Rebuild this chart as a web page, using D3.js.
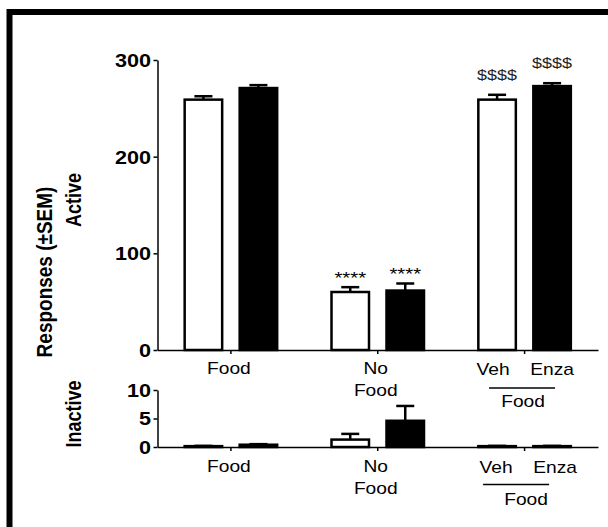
<!DOCTYPE html>
<html>
<head>
<meta charset="utf-8">
<script src="https://cdn.jsdelivr.net/npm/d3@7"></script>
<style>
html, body { margin: 0; padding: 0; background: #fff; }
svg { display: block; }
text { font-family: "Liberation Sans", Arial, sans-serif; }
</style>
</head>
<body>
<svg id="chart" width="608" height="527"></svg>
<script>
// ---- data ----
const groups = ["Food", "No Food", "Veh/Enza Food"];
const seriesNames = ["Veh", "Enza"];
const seriesFill = ["#fff", "#000"];

const activeWhite = [259, 60, 259];
const activeWhiteSem = [3.5, 5, 5];
const activeBlack = [271, 61.5, 273];
const activeBlackSem = [3, 7.3, 3];
const activeWhiteSig = ["", "****", "$$$$"];
const activeBlackSig = ["", "****", "$$$$"];

const inactiveWhite = [0.15, 1.3, 0.15];
const inactiveWhiteSem = [0.05, 1.0, 0.05];
const inactiveBlack = [0.4, 4.6, 0.15];
const inactiveBlackSem = [0.1, 2.6, 0.05];

const activeTicks = [0, 100, 200, 300];
const inactiveTicks = [0, 5, 10];

const groupLabelLines = [["Food"], ["No", "Food"], null];
const subLabels = ["Veh", "Enza"];
const subGroupLabel = "Food";

// ---- layout ----
const svg = d3.select("#chart");
const SX = 1.2; // horizontal stretch of the original picture's text

// frame (top and left edges visible)
svg.append("line").attr("x1", 7).attr("x2", 608).attr("y1", 12).attr("y2", 12)
  .attr("stroke", "#000").attr("stroke-width", 6);
svg.append("line").attr("x1", 9.5).attr("x2", 9.5).attr("y1", 9).attr("y2", 527)
  .attr("stroke", "#000").attr("stroke-width", 6);

const xLeft = 157.5, xRight = 598;
const x0 = d3.scaleBand().domain(groups).range([xLeft, xRight]).padding(0);
const x1 = d3.scaleBand().domain(seriesNames).range([-47.5, 47.5])
  .paddingInner(0.2727).paddingOuter(0);
const gc = g => x0(g) + x0.bandwidth() / 2;

function panel(opts) {
  const { yTop, yBot, domainMax, ticks, white, whiteSem, black, blackSem, whiteSig, blackSig, labelBase, lineBase, foodBase, shift3 } = opts;
  const y = d3.scaleLinear().domain([0, domainMax]).range([yBot, yTop]);
  const g = svg.append("g");

  // y axis
  const ya = g.append("g").attr("transform", `translate(${xLeft},0)`)
    .call(d3.axisLeft(y).tickValues(ticks).tickSize(4).tickSizeOuter(0).tickPadding(0));
  ya.select(".domain").attr("stroke", "#000").attr("stroke-width", 1.5);
  ya.selectAll(".tick line").attr("stroke", "#000").attr("stroke-width", 1.5);
  ya.selectAll(".tick text")
    .attr("x", -6.5 / SX).attr("dy", "0.36em")
    .attr("transform", `scale(${SX},1)`)
    .style("font-family", '"Liberation Sans", Arial, sans-serif')
    .style("font-size", "18px").style("font-weight", "bold").attr("fill", "#000");

  // x axis
  const xa = g.append("g").attr("transform", `translate(0,${yBot})`)
    .call(d3.axisBottom(x0).tickSize(4).tickSizeOuter(0).tickFormat(""));
  xa.select(".domain").attr("stroke", "#000").attr("stroke-width", 1.5);
  xa.selectAll(".tick line").attr("stroke", "#000").attr("stroke-width", 1.5);

  const rows = [];
  groups.forEach((grp, i) => {
    rows.push({ grp, s: seriesNames[0], v: white[i], e: whiteSem[i], sig: whiteSig ? whiteSig[i] : "", fill: seriesFill[0] });
    rows.push({ grp, s: seriesNames[1], v: black[i], e: blackSem[i], sig: blackSig ? blackSig[i] : "", fill: seriesFill[1] });
  });

  // error bars (upward only)
  const cap = 18;
  rows.forEach(d => {
    const cx = gc(d.grp) + x1(d.s) + x1.bandwidth() / 2;
    g.append("line").attr("x1", cx).attr("x2", cx).attr("y1", y(d.v)).attr("y2", y(d.v + d.e))
      .attr("stroke", "#000").attr("stroke-width", 2.5);
    g.append("line").attr("x1", cx - cap / 2).attr("x2", cx + cap / 2).attr("y1", y(d.v + d.e)).attr("y2", y(d.v + d.e))
      .attr("stroke", "#000").attr("stroke-width", 2.5);
  });

  // bars
  g.selectAll("rect.bar").data(rows).enter().append("rect").attr("class", "bar")
    .attr("x", d => gc(d.grp) + x1(d.s) + 1.25)
    .attr("width", x1.bandwidth() - 2.5)
    .attr("y", d => y(d.v))
    .attr("height", d => Math.max(0, yBot - y(d.v)))
    .attr("fill", d => d.fill).attr("stroke", "#000").attr("stroke-width", 2.5);

  // significance marks
  rows.forEach(d => {
    if (!d.sig) return;
    const cx = gc(d.grp) + x1(d.s) + x1.bandwidth() / 2;
    const isStar = d.sig[0] === "*";
    const by = y(d.v + d.e) - (isStar ? 3 : 15);
    g.append("text").attr("transform", `translate(${cx},${by}) scale(${SX},1)`)
      .attr("text-anchor", "middle")
      .style("font-size", isStar ? "17px" : "15px")
      .attr("fill", isStar ? "#000" : "#222")
      .text(d.sig);
  });

  // group labels
  groups.forEach((grp, i) => {
    const cx = gc(grp);
    const lines = groupLabelLines[i];
    if (lines) {
      lines.forEach((t, k) => {
        g.append("text").attr("transform", `translate(${cx - 2},${labelBase + 22 * k}) scale(${SX},1)`)
          .attr("text-anchor", "middle").style("font-size", "16px").attr("fill", "#000").text(t);
      });
    } else {
      const cW = cx + x1(seriesNames[0]) + x1.bandwidth() / 2;
      const cB = cx + x1(seriesNames[1]) + x1.bandwidth() / 2;
      [cW - 4 + shift3, cB + shift3].forEach((px, k) => {
        g.append("text").attr("transform", `translate(${px},${labelBase + 1}) scale(${SX},1)`)
          .attr("text-anchor", "middle").style("font-size", "16px").attr("fill", "#000").text(subLabels[k]);
      });
      g.append("line").attr("x1", cW - 8 - 2 * shift3).attr("x2", cB + 3 - 2 * shift3)
        .attr("y1", lineBase).attr("y2", lineBase).attr("stroke", "#000").attr("stroke-width", 1.5);
      g.append("text").attr("transform", `translate(${cx - 1.5 + shift3},${foodBase}) scale(${SX},1)`)
        .attr("text-anchor", "middle").style("font-size", "16px").attr("fill", "#000").text(subGroupLabel);
    }
  });
  return y;
}

panel({ yTop: 60, yBot: 350, domainMax: 300, ticks: activeTicks,
  white: activeWhite, whiteSem: activeWhiteSem, black: activeBlack, blackSem: activeBlackSem,
  whiteSig: activeWhiteSig, blackSig: activeBlackSig,
  labelBase: 374, lineBase: 388, foodBase: 407, shift3: 0 });

panel({ yTop: 390, yBot: 447, domainMax: 10, ticks: inactiveTicks,
  white: inactiveWhite, whiteSem: inactiveWhiteSem, black: inactiveBlack, blackSem: inactiveBlackSem,
  whiteSig: null, blackSig: null,
  labelBase: 471.5, lineBase: 484.5, foodBase: 505, shift3: 3 });

// axis titles (rotated)
function vtext(x, y, t, size) {
  svg.append("text").attr("transform", `translate(${x},${y}) scale(${SX},1) rotate(-90)`)
    .attr("text-anchor", "middle").style("font-size", size + "px").style("font-weight", "bold")
    .attr("fill", "#000").text(t);
}
vtext(52, 272, "Responses (\u00B1SEM)", 19);
vtext(81, 200, "Active", 18);
vtext(81, 414, "Inactive", 18);
</script>
</body>
</html>
